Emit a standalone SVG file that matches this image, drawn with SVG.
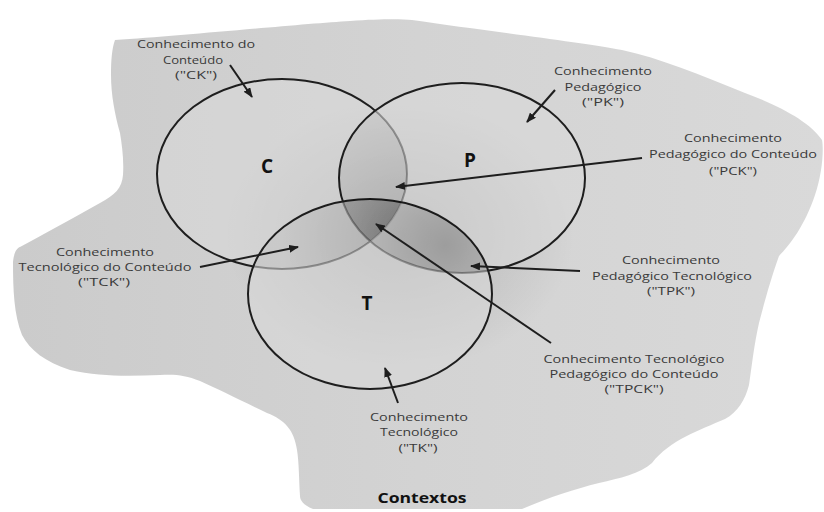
<svg xmlns="http://www.w3.org/2000/svg" width="824" height="512" viewBox="0 0 824 512">
<style>
.lbl{font-family:"Open Sans","DejaVu Sans",sans-serif;font-size:11.5px;fill:#3a3a3a;text-anchor:middle}
.big{font-family:"Open Sans","DejaVu Sans",sans-serif;font-size:19px;font-weight:bold;fill:#111;text-anchor:middle}
.ctx{font-family:"Open Sans","DejaVu Sans",sans-serif;font-size:14px;font-weight:bold;fill:#111;text-anchor:middle}
.ring{stroke:#1e1e1e;stroke-width:2}
.cfill{fill:#d8d8d8;fill-opacity:0.6}
.arr{fill:none;stroke:#1e1e1e;stroke-width:2;marker-end:url(#ah)}
</style>
<defs>
<linearGradient id="bg" x1="0" y1="0" x2="1" y2="0">
<stop offset="0" stop-color="#cbcbcb"/>
<stop offset="0.5" stop-color="#d3d3d3"/>
<stop offset="1" stop-color="#d9d9d9"/>
</linearGradient>
<radialGradient id="glow" cx="0.5" cy="0.5" r="0.5">
<stop offset="0" stop-color="#000" stop-opacity="0.16"/>
<stop offset="1" stop-color="#000" stop-opacity="0"/>
</radialGradient>
<radialGradient id="shade" gradientUnits="userSpaceOnUse" cx="410" cy="240" r="130">
<stop offset="0" stop-color="#000" stop-opacity="0.18"/>
<stop offset="1" stop-color="#000" stop-opacity="0.06"/>
</radialGradient>
<radialGradient id="shadePT" gradientUnits="userSpaceOnUse" cx="445" cy="245" r="100">
<stop offset="0" stop-color="#000" stop-opacity="0.26"/>
<stop offset="1" stop-color="#000" stop-opacity="0.1"/>
</radialGradient>
<clipPath id="clipC"><ellipse cx="282" cy="174" rx="125" ry="95"/></clipPath>
<clipPath id="clipP"><ellipse cx="462" cy="178" rx="123" ry="95"/></clipPath>
<marker id="ah" markerUnits="userSpaceOnUse" markerWidth="10" markerHeight="8" refX="9" refY="4" orient="auto">
<path d="M0,0 L10,4 L0,8 z" fill="#1e1e1e"/>
</marker>
</defs>

<g id="contextos">
<path d="M115,40 C180,36 300,24 350,21 C380,19 400,19 412,20 C480,30 580,42 622,50 C660,58 700,75 745,93 C780,106 810,122 822,140 C824,150 822,175 815,195 C805,225 790,245 779,256 C772,275 765,300 759,323 C754,345 752,365 749,385 C745,400 738,412 725,419 C700,430 670,440 652,463 C640,474 620,478 599,483 C575,489 550,497 522,509 L313,509 C303,505 300,500 300,496 C299,480 299,462 297,450 C294,430 285,420 267,413 C240,400 220,390 200,381 C185,375 175,374 160,375 C130,376 100,377 70,370 C45,362 30,350 22,335 C14,315 13,290 13,262 C14,252 17,248 20,247 C40,236 70,220 100,203 C115,195 122,188 123,175 C124,160 122,145 120,133 C115,115 111,95 111,75 C111,60 112,48 115,40 Z" fill="url(#bg)"/>
<text class="ctx" x="422" y="503" textLength="89" lengthAdjust="spacingAndGlyphs">Contextos</text>
</g>

<ellipse id="glow-area" cx="400" cy="235" rx="175" ry="135" fill="url(#glow)"/>

<g id="circle-C">
<ellipse class="ring cfill" cx="282" cy="174" rx="125" ry="95"/>
<text class="big" x="267" y="173">C</text>
</g>
<g id="circle-P">
<ellipse class="ring cfill" cx="462" cy="178" rx="123" ry="95"/>
<text class="big" x="470" y="167">P</text>
</g>
<g id="circle-T">
<ellipse class="ring cfill" cx="370" cy="294" rx="122" ry="95"/>
<text class="big" x="367" y="310">T</text>
</g>

<g id="shading">
<g clip-path="url(#clipC)"><ellipse cx="462" cy="178" rx="123" ry="95" fill="url(#shade)"/></g>
<g clip-path="url(#clipC)"><ellipse cx="370" cy="294" rx="122" ry="95" fill="url(#shade)"/></g>
<g clip-path="url(#clipP)"><ellipse cx="370" cy="294" rx="122" ry="95" fill="url(#shadePT)"/></g>
</g>

<g id="connectors">
<line class="arr" x1="230" y1="65" x2="252" y2="97"/>
<line class="arr" x1="555" y1="90" x2="527" y2="122"/>
<line class="arr" x1="642" y1="158" x2="396" y2="187"/>
<line class="arr" x1="200" y1="267" x2="298" y2="247"/>
<line class="arr" x1="580" y1="271" x2="471" y2="266"/>
<line class="arr" x1="551" y1="343" x2="376" y2="224"/>
<line class="arr" x1="398" y1="403" x2="385" y2="368"/>
</g>

<g id="label-CK">
<text class="lbl" x="196" y="48" textLength="118" lengthAdjust="spacingAndGlyphs">Conhecimento do</text>
<text class="lbl" x="193" y="64" textLength="60" lengthAdjust="spacingAndGlyphs">Conteúdo</text>
<text class="lbl" x="196" y="79" textLength="42" lengthAdjust="spacingAndGlyphs">("CK")</text>
</g>
<g id="label-PK">
<text class="lbl" x="603" y="75" textLength="98" lengthAdjust="spacingAndGlyphs">Conhecimento</text>
<text class="lbl" x="603" y="91" textLength="77" lengthAdjust="spacingAndGlyphs">Pedagógico</text>
<text class="lbl" x="603" y="106" textLength="42" lengthAdjust="spacingAndGlyphs">("PK")</text>
</g>
<g id="label-PCK">
<text class="lbl" x="733" y="142" textLength="98" lengthAdjust="spacingAndGlyphs">Conhecimento</text>
<text class="lbl" x="733" y="158" textLength="168" lengthAdjust="spacingAndGlyphs">Pedagógico do Conteúdo</text>
<text class="lbl" x="733" y="175" textLength="48" lengthAdjust="spacingAndGlyphs">("PCK")</text>
</g>
<g id="label-TCK">
<text class="lbl" x="105" y="256" textLength="98" lengthAdjust="spacingAndGlyphs">Conhecimento</text>
<text class="lbl" x="105" y="271" textLength="173" lengthAdjust="spacingAndGlyphs">Tecnológico do Conteúdo</text>
<text class="lbl" x="104" y="286" textLength="52" lengthAdjust="spacingAndGlyphs">("TCK")</text>
</g>
<g id="label-TPK">
<text class="lbl" x="671" y="264" textLength="98" lengthAdjust="spacingAndGlyphs">Conhecimento</text>
<text class="lbl" x="672" y="280" textLength="160" lengthAdjust="spacingAndGlyphs">Pedagógico Tecnológico</text>
<text class="lbl" x="671" y="295" textLength="48" lengthAdjust="spacingAndGlyphs">("TPK")</text>
</g>
<g id="label-TPCK">
<text class="lbl" x="634" y="363" textLength="181" lengthAdjust="spacingAndGlyphs">Conhecimento Tecnológico</text>
<text class="lbl" x="634" y="378" textLength="169" lengthAdjust="spacingAndGlyphs">Pedagógico do Conteúdo</text>
<text class="lbl" x="634" y="393" textLength="59" lengthAdjust="spacingAndGlyphs">("TPCK")</text>
</g>
<g id="label-TK">
<text class="lbl" x="419" y="421" textLength="98" lengthAdjust="spacingAndGlyphs">Conhecimento</text>
<text class="lbl" x="419" y="436" textLength="78" lengthAdjust="spacingAndGlyphs">Tecnológico</text>
<text class="lbl" x="418" y="452" textLength="39" lengthAdjust="spacingAndGlyphs">("TK")</text>
</g>
</svg>
